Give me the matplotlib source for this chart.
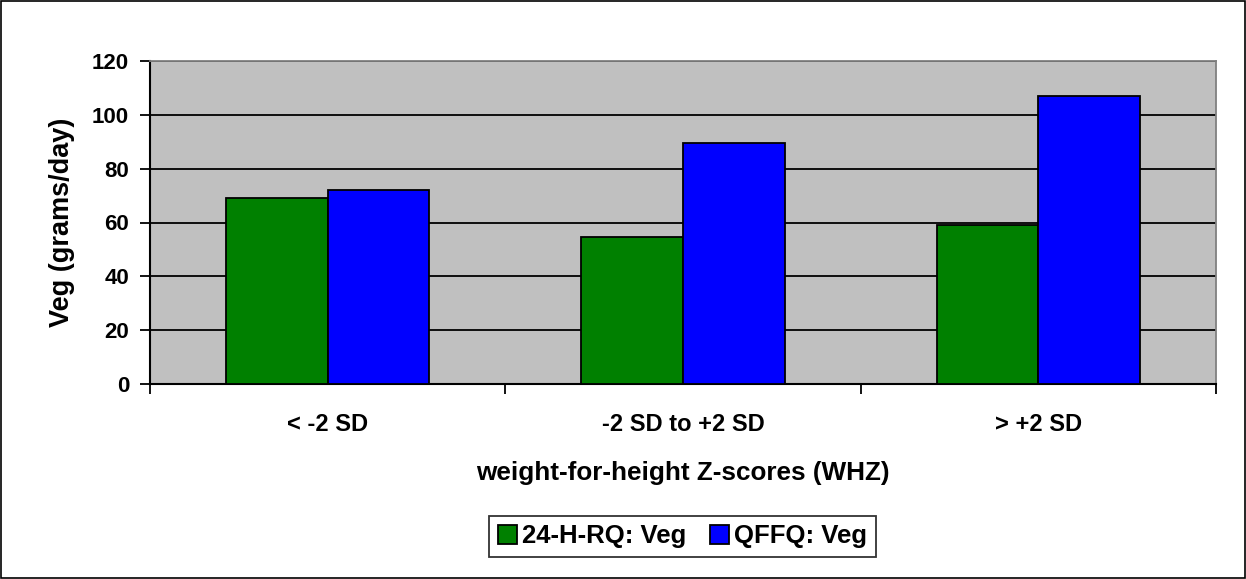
import numpy as np
import matplotlib.pyplot as plt
from matplotlib.patches import Rectangle

plt.rcParams['font.family'] = ['Liberation Sans', 'DejaVu Sans']
plt.rcParams['font.weight'] = 'bold'

categories = ["< -2 SD", "-2 SD to +2 SD", "> +2 SD"]
recall_24h = [69, 54.5, 59]
qffq = [72, 89.5, 107]
series_names = ["24-H-RQ: Veg", "QFFQ: Veg"]

fig = plt.figure(figsize=(12.46, 5.79), dpi=100)
ax = fig.add_axes([150 / 1246, 1 - 384 / 579, 1066 / 1246, 323 / 579])
ax.set_facecolor("#C0C0C0")

x = np.arange(len(categories))
w = 1 / 3.5
ax.bar(x - w / 2, recall_24h, w, color="#008000", edgecolor="black", linewidth=1.3,
       label=series_names[0], zorder=3)
ax.bar(x + w / 2, qffq, w, color="#0000FF", edgecolor="black", linewidth=1.3,
       label=series_names[1], zorder=3)

ax.set_xlim(-0.5, len(categories) - 0.5)
ax.set_ylim(0, 120)
ax.set_yticks(np.arange(0, 121, 20))
ax.yaxis.grid(True, color="black", linewidth=1.3, zorder=1)
ax.set_axisbelow(True)

# category boundaries carry the tick marks, labels sit at the centres
ax.set_xticks(np.arange(-0.5, len(categories), 1))
ax.set_xticklabels([])
ax.set_xticks(x, minor=True)
ax.set_xticklabels(categories, minor=True, fontsize=17, fontweight="bold")
ax.tick_params(axis="x", which="major", length=7, width=1.3, direction="out")
ax.tick_params(axis="x", which="minor", length=0, pad=21)
ax.tick_params(axis="y", length=7, width=1.3, labelsize=16, pad=8)
for t in ax.get_yticklabels():
    t.set_fontweight("bold")

for side in ["top", "right"]:
    ax.spines[side].set_color("#808080")
    ax.spines[side].set_linewidth(1.3)
for side in ["left", "bottom"]:
    ax.spines[side].set_color("black")
    ax.spines[side].set_linewidth(1.5)

ax.set_ylabel("Veg (grams/day)", fontsize=19.5, fontweight="bold", labelpad=12)
ax.set_xlabel("weight-for-height Z-scores (WHZ)", fontsize=18.8, fontweight="bold", labelpad=18)

leg = fig.legend(loc="center", bbox_to_anchor=(682.5 / 1246, 1 - 536.5 / 579), ncol=2,
                 frameon=True, fancybox=False, edgecolor="black", fontsize=18.5,
                 handlelength=0.75, handleheight=0.75, handletextpad=0.2, columnspacing=0.9,
                 borderpad=0.35, borderaxespad=0)
leg.get_frame().set_linewidth(1.3)

fig.patches.append(Rectangle((0.0008, 0.0017), 0.9984, 0.9966, transform=fig.transFigure,
                             fill=False, edgecolor="black", linewidth=1.2))

fig.savefig("out.png", dpi=100)
